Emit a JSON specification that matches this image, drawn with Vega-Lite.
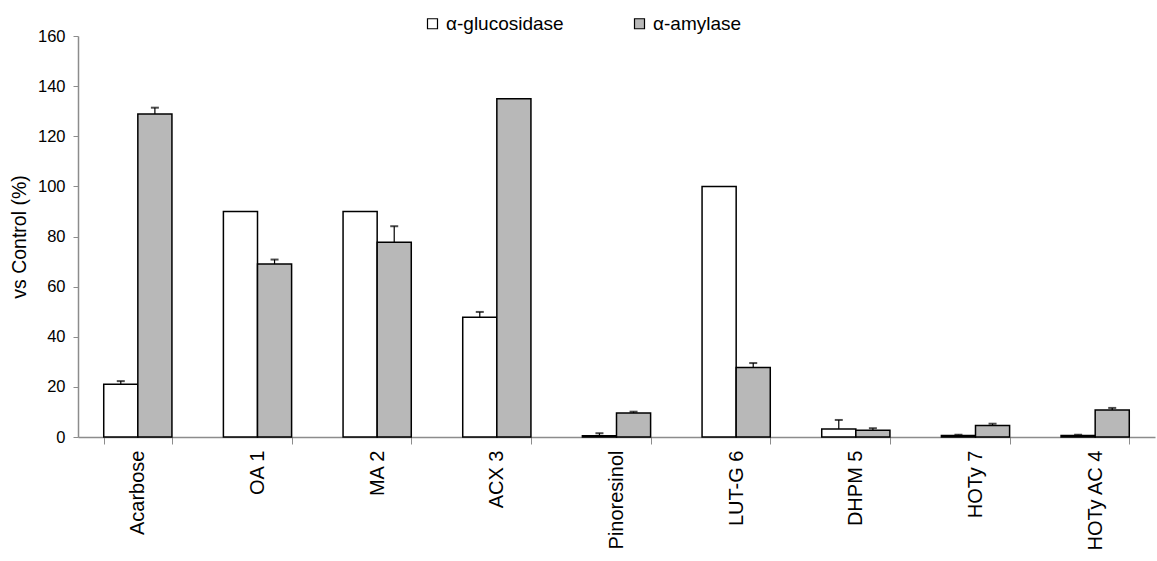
{
  "$schema": "https://vega.github.io/schema/vega-lite/v6.json",
  "width": 1077,
  "height": 401,
  "autosize": {"type": "none"},
  "padding": {"left": 78, "top": 36, "right": 2, "bottom": 124},
  "background": "white",
  "config": {
    "view": {"stroke": null},
    "font": "Liberation Sans",
    "axis": {"grid": false, "domainColor": "#8c8c8c", "tickColor": "#8c8c8c", "labelColor": "black", "titleColor": "black", "labelFont": "Liberation Sans", "titleFont": "Liberation Sans"},
    "legend": {"labelFont": "Liberation Sans"}
  },
  "data": {
    "values": [
      {"compound": "Acarbose", "enzyme": "α-glucosidase", "value": 21.0, "err": 1.3},
      {"compound": "Acarbose", "enzyme": "α-amylase", "value": 128.9, "err": 2.5},
      {"compound": "OA 1", "enzyme": "α-glucosidase", "value": 90, "err": 0},
      {"compound": "OA 1", "enzyme": "α-amylase", "value": 69.0, "err": 1.8},
      {"compound": "MA 2", "enzyme": "α-glucosidase", "value": 90, "err": 0},
      {"compound": "MA 2", "enzyme": "α-amylase", "value": 77.7, "err": 6.4},
      {"compound": "ACX 3", "enzyme": "α-glucosidase", "value": 47.8, "err": 2.1},
      {"compound": "ACX 3", "enzyme": "α-amylase", "value": 135, "err": 0},
      {"compound": "Pinoresinol", "enzyme": "α-glucosidase", "value": 0.5, "err": 1.0},
      {"compound": "Pinoresinol", "enzyme": "α-amylase", "value": 9.6, "err": 0.5},
      {"compound": "LUT-G 6", "enzyme": "α-glucosidase", "value": 100, "err": 0},
      {"compound": "LUT-G 6", "enzyme": "α-amylase", "value": 27.7, "err": 1.8},
      {"compound": "DHPM 5", "enzyme": "α-glucosidase", "value": 3.2, "err": 3.6},
      {"compound": "DHPM 5", "enzyme": "α-amylase", "value": 2.7, "err": 0.8},
      {"compound": "HOTy 7", "enzyme": "α-glucosidase", "value": 0.6, "err": 0.3},
      {"compound": "HOTy 7", "enzyme": "α-amylase", "value": 4.6, "err": 0.7},
      {"compound": "HOTy AC 4", "enzyme": "α-glucosidase", "value": 0.6, "err": 0.3},
      {"compound": "HOTy AC 4", "enzyme": "α-amylase", "value": 10.8, "err": 0.8}
    ]
  },
  "transform": [{"calculate": "datum.value + datum.err", "as": "upper"}],
  "encoding": {
    "x": {
      "field": "compound", "type": "nominal", "sort": null,
      "scale": {"paddingInner": 0.43, "paddingOuter": 0.215},
      "axis": {"title": null, "labelAngle": -90, "labelAlign": "right", "labelBaseline": "middle", "labelFontSize": 20, "labelPadding": 6, "tickBand": "extent", "tickSize": 7, "domainWidth": 1.5}
    },
    "xOffset": {"field": "enzyme", "type": "nominal", "sort": ["α-glucosidase", "α-amylase"]}
  },
  "layer": [
    {
      "mark": {"type": "bar", "stroke": "black", "strokeWidth": 1.5},
      "encoding": {
        "y": {
          "field": "value", "type": "quantitative",
          "scale": {"domain": [0, 160], "nice": false},
          "axis": {"title": "vs Control (%)", "titleFontSize": 19.5, "titleFontWeight": "normal", "titlePadding": 8, "values": [0, 20, 40, 60, 80, 100, 120, 140, 160], "labelFontSize": 16.5, "labelPadding": 8, "tickSize": 5, "domainWidth": 1.5}
        },
        "fill": {
          "field": "enzyme", "type": "nominal", "sort": ["α-glucosidase", "α-amylase"],
          "scale": {"domain": ["α-glucosidase", "α-amylase"], "range": ["white", "#b8b8b8"]},
          "legend": {"title": null, "orient": "none", "direction": "horizontal", "legendX": 345, "legendY": -22, "symbolType": "square", "symbolSize": 100, "symbolStrokeColor": "black", "symbolStrokeWidth": 1.2, "labelFontSize": 19, "labelColor": "black", "columnPadding": 66, "labelOffset": 4, "labelLimit": 300}
        }
      }
    },
    {
      "transform": [{"filter": "datum.err > 0"}],
      "mark": {"type": "rule", "color": "black", "strokeWidth": 1.2},
      "encoding": {
        "y": {"field": "value", "type": "quantitative"},
        "y2": {"field": "upper"}
      }
    },
    {
      "transform": [{"filter": "datum.err > 0"}],
      "mark": {"type": "tick", "color": "black", "thickness": 2, "size": 8, "orient": "horizontal"},
      "encoding": {
        "y": {"field": "upper", "type": "quantitative"}
      }
    }
  ]
}
